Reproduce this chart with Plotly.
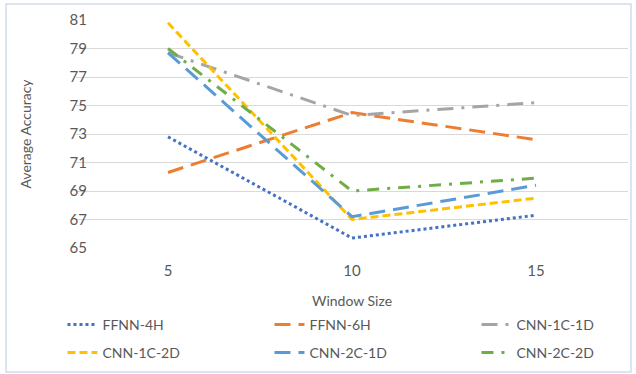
import plotly.graph_objects as go

window_sizes = ["5", "10", "15"]
ffnn_4h = [72.8, 65.7, 67.3]
ffnn_6h = [70.3, 74.5, 72.6]
cnn_1c_1d = [78.7, 74.3, 75.2]
cnn_1c_2d = [80.8, 67.0, 68.5]
cnn_2c_1d = [78.7, 67.2, 69.4]
cnn_2c_2d = [79.0, 69.0, 69.9]
y_ticks = [65, 67, 69, 71, 73, 75, 77, 79, 81]

series = [
    ("FFNN-4H", ffnn_4h, "#4472C4", "dot", "legend"),
    ("FFNN-6H", ffnn_6h, "#ED7D31", "16px,8px", "legend"),
    ("CNN-1C-1D", cnn_1c_1d, "#A5A5A5", "16px,8px,3px,8px", "legend"),
    ("CNN-1C-2D", cnn_1c_2d, "#FFC000", "8px,4px", "legend2"),
    ("CNN-2C-1D", cnn_2c_1d, "#5B9BD5", "16px,8px", "legend2"),
    ("CNN-2C-2D", cnn_2c_2d, "#70AD47", "12px,8px,3px,8px", "legend2"),
]

fig = go.Figure()
for name, vals, color, dash, lg in series:
    fig.add_trace(go.Scatter(
        x=window_sizes, y=vals, name=name, mode="lines",
        line=dict(color=color, width=3, dash=dash), legend=lg,
    ))

legend_common = dict(
    orientation="h", x=-0.0245, xanchor="left", yanchor="middle",
    entrywidth=162, entrywidthmode="pixels",
    font=dict(size=14, color="#595959", family="Lato, sans-serif"),
    bgcolor="rgba(0,0,0,0)", itemwidth=30,
)

fig.update_layout(
    width=636, height=374,
    margin=dict(l=76, r=8, t=20, b=126, autoexpand=False),
    paper_bgcolor="white", plot_bgcolor="white",
    font=dict(family="Lato, Open Sans, sans-serif", color="#595959", size=14),
    showlegend=True,
    legend=dict(legend_common, y=-(325 - 248) / 228),
    legend2=dict(legend_common, y=-(353 - 248) / 228),
    shapes=[dict(
        type="rect", xref="paper", yref="paper",
        x0=-0.1268, x1=1.0054, y0=-0.544, y1=1.07,
        line=dict(color="#D0DCEB", width=1.5), fillcolor="rgba(0,0,0,0)",
        layer="below",
    )],
)
fig.update_xaxes(
    type="category", range=[-0.5, 2.5], showgrid=False, zeroline=False, showline=False,
    automargin=False,
    ticks="", tickfont=dict(size=15, color="#595959"), ticklabelstandoff=12,
    title=dict(text="Window Size", font=dict(size=14, color="#595959"), standoff=18),
)
fig.update_yaxes(
    range=[65, 81], tickvals=y_ticks, showgrid=True, gridcolor="#D9D9D9",
    automargin=False,
    gridwidth=1, zeroline=False, showline=False, ticks="",
    tickfont=dict(size=15, color="#595959"), ticklabelstandoff=-12,
    title=dict(text="Average Accuracy", font=dict(size=14, color="#595959"), standoff=34),
)

fig.write_html("out.html", post_script="document.body.style.margin='0';",
               config={"displayModeBar": False})
